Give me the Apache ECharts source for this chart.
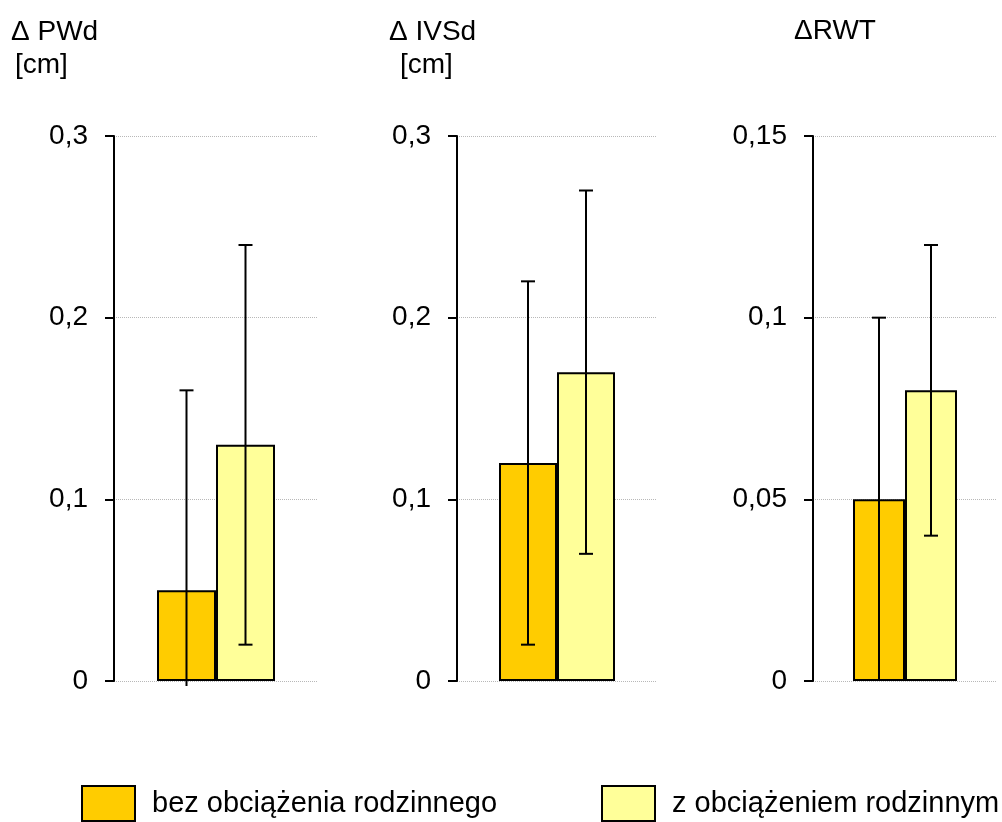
<!DOCTYPE html>
<html><head><meta charset="utf-8">
<script src="https://cdn.jsdelivr.net/npm/echarts@6/dist/echarts.min.js"></script>
<style>html,body{margin:0;padding:0;background:#fff}#c{width:1002px;height:822px}</style>
</head><body><div id="c"></div>
<script>
// ---- data ----
const seriesNames = ['bez obciążenia rodzinnego', 'z obciążeniem rodzinnym'];
const panelTitles = ['Δ PWd', 'Δ IVSd', 'ΔRWT'];
const panelUnits = ['[cm]', '[cm]', ''];
const meanWithout = [0.05, 0.12, 0.05];
const meanWith = [0.13, 0.17, 0.08];
const errWithout = [0.11, 0.10, 0.05];
const errWith = [0.11, 0.10, 0.04];
const axisMax = [0.3, 0.3, 0.15];
const axisInterval = [0.1, 0.1, 0.05];
const colors = ['#FFCC00', '#FFFF99'];

// ---- layout ----
const grids = [
  {left: 114, width: 204, barW: 59},
  {left: 457, width: 200, barW: 58},
  {left: 813, width: 184, barW: 52}
];
const titlePos = [[11, 18, 15, 51], [389, 18, 400, 51], [794, 17, 0, 0]];
const FS = 28;
const font = 'Liberation Sans, Arial, sans-serif';

const option = {
  animation: false,
  backgroundColor: '#fff',
  textStyle: {fontFamily: font, color: '#000'},
  title: [],
  grid: [], xAxis: [], yAxis: [], series: [],
  legend: seriesNames.map((n, i) => ({
    data: [n], left: i === 0 ? 76 : 596, top: 780,
    itemWidth: 53, itemHeight: 35, icon: 'rect',
    itemStyle: {borderColor: '#000', borderWidth: 2},
    textStyle: {fontSize: 29, fontFamily: font, color: '#000', padding: [0, 0, 0, 12]},
    selectedMode: false
  }))
};

panelTitles.forEach((t, p) => {
  const tp = titlePos[p];
  const ts = {fontSize: FS, fontWeight: 'normal', fontFamily: font, color: '#000'};
  option.title.push({text: t, left: tp[0], top: tp[1], padding: 0, textStyle: ts});
  if (panelUnits[p]) option.title.push({text: panelUnits[p], left: tp[2], top: tp[3], padding: 0, textStyle: ts});
  const g = grids[p];
  option.grid.push({left: g.left, width: g.width, top: 136, bottom: 141, containLabel: false});
  option.xAxis.push({type: 'category', gridIndex: p, data: [''], axisLine: {show: false}, axisTick: {show: false}, axisLabel: {show: false}});
  option.yAxis.push({
    type: 'value', gridIndex: p, min: 0, max: axisMax[p], interval: axisInterval[p],
    axisLine: {show: true, lineStyle: {color: '#000', width: 2}},
    axisTick: {show: true, inside: false, length: 9, lineStyle: {color: '#000', width: 2}},
    axisLabel: {fontSize: FS, color: '#000', fontFamily: font, margin: 26,
      formatter: v => String(+v.toFixed(4)).replace('.', ',')},
    splitLine: {show: true, lineStyle: {color: '#b8b8b8', type: 'dotted', width: 1}}
  });
  const means = [meanWithout[p], meanWith[p]];
  const errs = [errWithout[p], errWith[p]];
  means.forEach((m, s) => {
    option.series.push({
      type: 'bar', name: seriesNames[s], xAxisIndex: p, yAxisIndex: p,
      data: [m], barWidth: g.barW, barGap: '0%',
      itemStyle: {color: colors[s], borderColor: '#000', borderWidth: 2}, z: 2
    });
  });
  option.series.push({
    type: 'custom', xAxisIndex: p, yAxisIndex: p, z: 5, silent: true,
    data: means.map((m, s) => [0, m - errs[s], m + errs[s], s === 0 ? -1 : 1]),
    renderItem: (params, api) => {
      const low = api.value(1), high = api.value(2), side = api.value(3);
      const base = api.coord([0, 0]);
      const cx = base[0] + side * g.barW / 2;
      const yHigh = api.coord([0, high])[1];
      const clipped = low < 0;
      const yLow = clipped ? base[1] + 5 : api.coord([0, low])[1];
      const st = {stroke: '#000', lineWidth: 2};
      const cap = 7;
      const children = [
        {type: 'line', shape: {x1: cx, y1: yHigh, x2: cx, y2: yLow}, style: st},
        {type: 'line', shape: {x1: cx - cap, y1: yHigh, x2: cx + cap, y2: yHigh}, style: st}
      ];
      if (!clipped && low > 0) children.push({type: 'line', shape: {x1: cx - cap, y1: yLow, x2: cx + cap, y2: yLow}, style: st});
      return {type: 'group', children};
    }
  });
});

const chart = echarts.init(document.getElementById('c'), null, {renderer: 'canvas'});
chart.setOption(option);
</script></body></html>
